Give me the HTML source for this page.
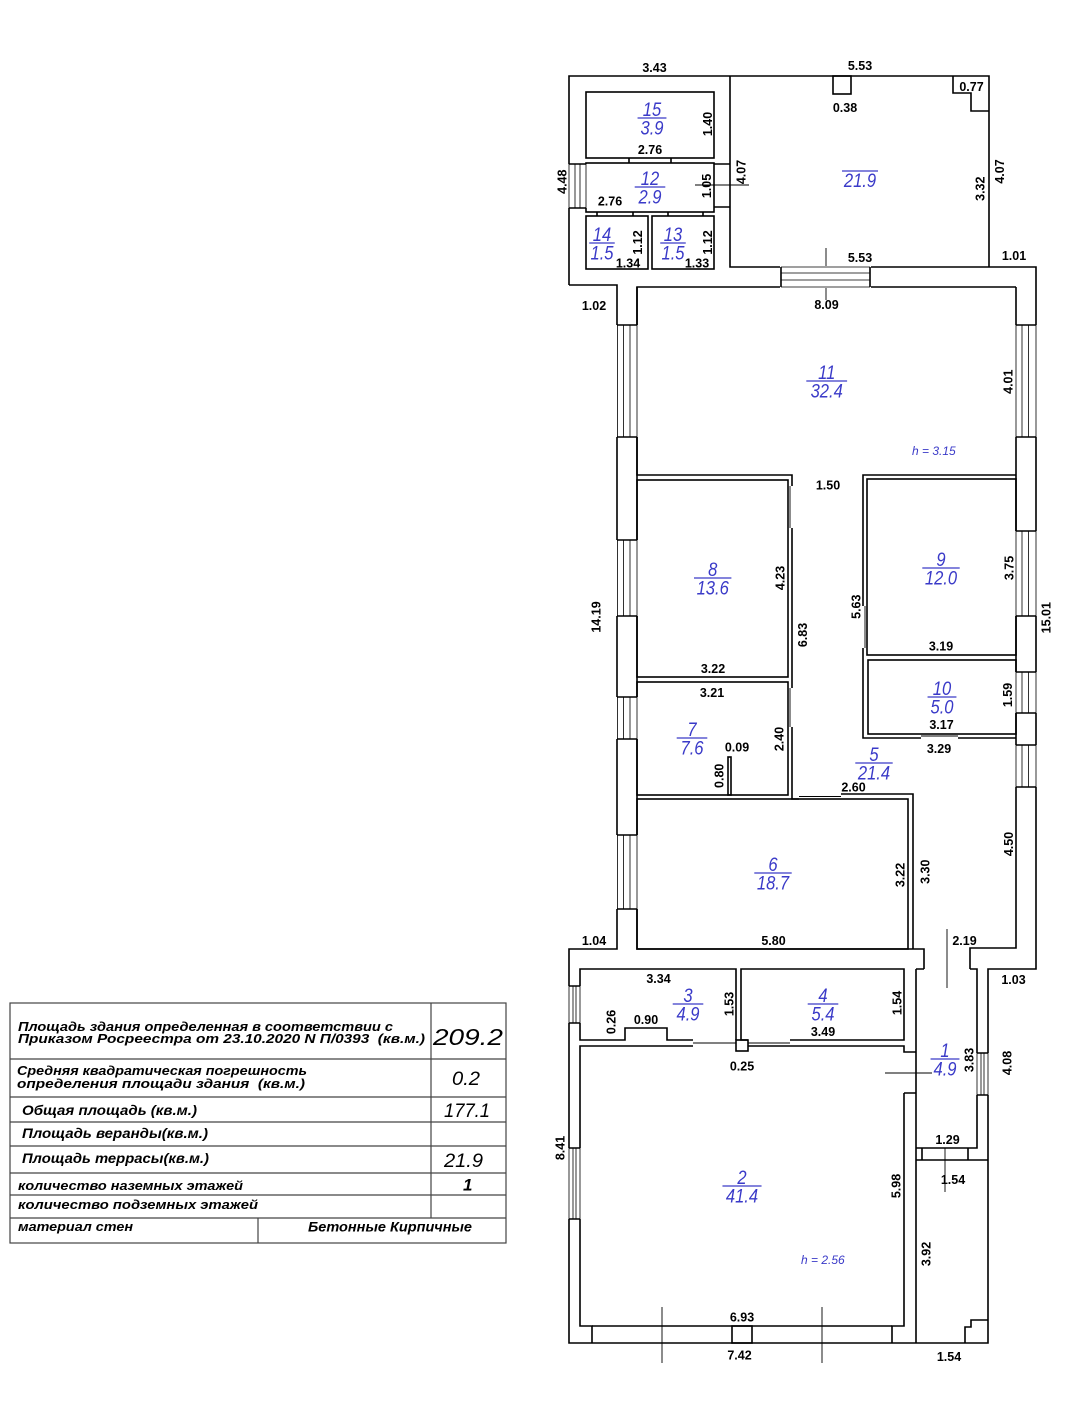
<!DOCTYPE html>
<html><head><meta charset="utf-8"><style>
html,body{margin:0;padding:0;background:#fff;}
svg{display:block}
.w{fill:none;stroke:#000;stroke-width:1.6}
.t{fill:none;stroke:#000;stroke-width:0.9}
.tw{fill:none;stroke:#000;stroke-width:0.8}
.d{font-family:"Liberation Sans",sans-serif;font-weight:bold;font-size:12.5px;fill:#000;text-anchor:middle}
.r{font-family:"Liberation Sans",sans-serif;font-style:italic;font-size:19.5px;fill:#3a3ac8;text-anchor:middle}
.rl{stroke:#3a3ac8;stroke-width:1.3}
.h{font-family:"Liberation Sans",sans-serif;font-style:italic;font-size:12px;fill:#3a3ac8}
.tb{font-family:"Liberation Sans",sans-serif;font-style:italic;font-weight:bold;font-size:13px;fill:#000}
.tv{font-family:"Liberation Sans",sans-serif;font-style:italic;font-size:19px;fill:#000}
.g{fill:none;stroke:#444;stroke-width:1.2}
</style></head><body>
<svg width="1080" height="1424" viewBox="0 0 1080 1424">
<rect width="1080" height="1424" fill="#fff"/>

<!-- outer outlines -->
<path class="w" d="M569,285 V76 H989 V267"/>
<path class="w" d="M569,285 H617 V949 H569 V1343 H988 V969 H1036 V267 H730 V76"/>

<!-- top-left block rooms -->
<rect class="w" x="586" y="92" width="128" height="66"/>
<rect class="w" x="586" y="163" width="128" height="49"/>
<rect class="w" x="586" y="216" width="62" height="53"/>
<rect class="w" x="652" y="216" width="62" height="53"/>
<path class="w" d="M629,158V163 M671,158V163 M597,212V216 M633,212V216 M668,212V216 M703,212V216"/>
<path class="w" d="M714,164H730 M714,207H730"/>
<path class="t" d="M695,185H749"/>

<!-- terrace -->
<rect class="w" x="833" y="76" width="18" height="18"/>
<path class="w" d="M953,76V93H971V111H989"/>
<path class="t" d="M826,248V300"/>
<line class="rl" x1="842" y1="171" x2="878" y2="171"/>
<text class="r" x="860" y="187" transform="translate(860,0) scale(0.85,1) translate(-860,0)">21.9</text>

<!-- inner walls main -->
<path class="w" d="M792,486V475H637V287H1016"/>
<path class="w" d="M1016,287V948H970V969"/>
<path class="w" d="M1016,475H863V479"/>
<path class="w" d="M637,287V949H924V969"/>

<!-- rooms 8,7,6 -->
<rect class="w" x="637" y="480" width="151" height="197"/>
<rect class="w" x="637" y="682" width="151" height="113"/>
<path class="w" d="M792,528V688 M792,727V799H799"/>
<path class="t" d="M790,486V528 M790,688V727"/>
<rect class="w" x="637" y="799" width="271" height="150"/>
<path class="w" d="M841,794H913V949"/>
<path class="t" d="M799,796.5H841"/>
<rect class="w" x="728" y="757" width="3" height="38"/>

<!-- rooms 9,10 -->
<rect class="w" x="867" y="479" width="149" height="176"/>
<rect class="w" x="868" y="660" width="148" height="74"/>
<path class="w" d="M863,479V606 M863,648V738H921 M958,738H1016"/>
<path class="t" d="M865,606V648 M921,736H958"/>

<!-- lower part -->
<path class="w" d="M693,1040H667V1028H625V1040H580V969H736V1040"/>
<path class="t" d="M693,1043H736"/>
<path class="w" d="M748,1040H741V969H904V1040H790"/>
<path class="t" d="M748,1043H790"/>
<path class="w" d="M693,1046H580V1326H592V1343 M748,1046H904V1052H916 M904,1093H916 M904,1093V1326H892V1343"/>
<rect class="w" x="736" y="1040" width="12" height="11"/>
<path class="w" d="M592,1326H892"/>
<rect class="w" x="732" y="1326" width="20" height="17"/>
<path class="w" d="M916,969V1343 M916,969H924 M970,969H977V1148H916"/>
<path class="w" d="M922,1148V1160 M968,1148V1160 M916,1160H988"/>
<path class="w" d="M988,1320H971V1327H965V1343"/>
<path class="t" d="M947,929V988 M885,1073H932 M945,1148V1192 M662,1307V1363 M822,1307V1363"/>

<!-- windows: white out wall lines then thin window lines -->
<g fill="#fff" stroke="none">
<rect x="780" y="266" width="91" height="22"/>
<rect x="568" y="164" width="19" height="44"/>
<rect x="616" y="325" width="22" height="112"/>
<rect x="616" y="540" width="22" height="76"/>
<rect x="616" y="697" width="22" height="42"/>
<rect x="616" y="835" width="22" height="74"/>
<rect x="1015" y="325" width="22" height="112"/>
<rect x="1015" y="531" width="22" height="85"/>
<rect x="1015" y="672" width="22" height="41"/>
<rect x="1015" y="745" width="22" height="42"/>
<rect x="568" y="986" width="13" height="37"/>
<rect x="568" y="1148" width="13" height="71"/>
<rect x="976" y="1053" width="13" height="42"/>
</g>
<path class="tw" d="M781,267H870 M781,273H870 M781,280H870 M781,287H870"/>
<path class="w" d="M781,267V287 M870,267V287"/>
<path class="tw" d="M569,164V208 M575,164V208 M580,164V208 M586,164V208"/>
<path class="w" d="M569,164H586 M569,208H586"/>
<path class="tw" d="M617.5,325V437 M623.5,325V437 M630,325V437 M637,325V437
 M617.5,540V616 M623.5,540V616 M630,540V616 M637,540V616
 M617.5,697V739 M623.5,697V739 M630,697V739 M637,697V739
 M617.5,835V909 M623.5,835V909 M630,835V909 M637,835V909"/>
<path class="w" d="M617,325H637 M617,437H637 M617,540H637 M617,616H637 M617,697H637 M617,739H637 M617,835H637 M617,909H637"/>
<path class="tw" d="M1016,325V437 M1022,325V437 M1028.5,325V437 M1036,325V437
 M1016,531V616 M1022,531V616 M1028.5,531V616 M1036,531V616
 M1016,672V713 M1022,672V713 M1028.5,672V713 M1036,672V713
 M1016,745V787 M1022,745V787 M1028.5,745V787 M1036,745V787"/>
<path class="w" d="M1016,325H1036 M1016,437H1036 M1016,531H1036 M1016,616H1036 M1016,672H1036 M1016,713H1036 M1016,745H1036 M1016,787H1036"/>
<path class="tw" d="M569,986V1023 M573,986V1023 M576,986V1023 M580,986V1023 M569,1148V1219 M573,1148V1219 M576,1148V1219 M580,1148V1219"/>
<path class="w" d="M569,986H580 M569,1023H580 M569,1148H580 M569,1219H580"/>
<path class="tw" d="M977,1053V1095 M981,1053V1095 M984,1053V1095 M988,1053V1095"/>
<path class="w" d="M977,1053H988 M977,1095H988"/>

<!-- dimension labels horizontal -->
<text class="d" x="654.5" y="72">3.43</text>
<text class="d" x="860" y="70">5.53</text>
<text class="d" x="845" y="112">0.38</text>
<text class="d" x="971.5" y="91">0.77</text>
<text class="d" x="650" y="154">2.76</text>
<text class="d" x="610" y="205.5">2.76</text>
<text class="d" x="628" y="267.5">1.34</text>
<text class="d" x="697" y="267.5">1.33</text>
<text class="d" x="860" y="262">5.53</text>
<text class="d" x="1014" y="260">1.01</text>
<text class="d" x="594" y="310">1.02</text>
<text class="d" x="826.5" y="309">8.09</text>
<text class="d" x="828" y="489.5">1.50</text>
<text class="d" x="713" y="673">3.22</text>
<text class="d" x="941" y="650.5">3.19</text>
<text class="d" x="712" y="697">3.21</text>
<text class="d" x="941.5" y="729">3.17</text>
<text class="d" x="939" y="753">3.29</text>
<text class="d" x="737" y="751.5">0.09</text>
<text class="d" x="853.5" y="791.5">2.60</text>
<text class="d" x="773.5" y="945">5.80</text>
<text class="d" x="594" y="945">1.04</text>
<text class="d" x="964.5" y="945">2.19</text>
<text class="d" x="658.5" y="983">3.34</text>
<text class="d" x="646" y="1024">0.90</text>
<text class="d" x="823" y="1036">3.49</text>
<text class="d" x="742" y="1070.5">0.25</text>
<text class="d" x="947.5" y="1144">1.29</text>
<text class="d" x="1013.5" y="984">1.03</text>
<text class="d" x="953" y="1184">1.54</text>
<text class="d" x="742" y="1321.5">6.93</text>
<text class="d" x="739.5" y="1359.5">7.42</text>
<text class="d" x="949" y="1361">1.54</text>

<!-- dimension labels vertical -->
<text class="d" transform="translate(707.5,124) rotate(-90)" y="4.5">1.40</text>
<text class="d" transform="translate(706.7,186) rotate(-90)" y="4.5">1.05</text>
<text class="d" transform="translate(741,172) rotate(-90)" y="4.5">4.07</text>
<text class="d" transform="translate(562,181.7) rotate(-90)" y="4.5">4.48</text>
<text class="d" transform="translate(637.5,242.5) rotate(-90)" y="4.5">1.12</text>
<text class="d" transform="translate(707.5,242.5) rotate(-90)" y="4.5">1.12</text>
<text class="d" transform="translate(980,188.7) rotate(-90)" y="4.5">3.32</text>
<text class="d" transform="translate(999.7,171.5) rotate(-90)" y="4.5">4.07</text>
<text class="d" transform="translate(1008,381.7) rotate(-90)" y="4.5">4.01</text>
<text class="d" transform="translate(780,578) rotate(-90)" y="4.5">4.23</text>
<text class="d" transform="translate(802.5,635) rotate(-90)" y="4.5">6.83</text>
<text class="d" transform="translate(856,606.7) rotate(-90)" y="4.5">5.63</text>
<text class="d" transform="translate(1009,568) rotate(-90)" y="4.5">3.75</text>
<text class="d" transform="translate(1046,617.7) rotate(-90)" y="4.5">15.01</text>
<text class="d" transform="translate(1007.5,695) rotate(-90)" y="4.5">1.59</text>
<text class="d" transform="translate(779,739) rotate(-90)" y="4.5">2.40</text>
<text class="d" transform="translate(719,775.8) rotate(-90)" y="4.5">0.80</text>
<text class="d" transform="translate(900,875) rotate(-90)" y="4.5">3.22</text>
<text class="d" transform="translate(925,871.7) rotate(-90)" y="4.5">3.30</text>
<text class="d" transform="translate(1008.5,844) rotate(-90)" y="4.5">4.50</text>
<text class="d" transform="translate(596,617) rotate(-90)" y="4.5">14.19</text>
<text class="d" transform="translate(729,1004) rotate(-90)" y="4.5">1.53</text>
<text class="d" transform="translate(611,1022) rotate(-90)" y="4.5">0.26</text>
<text class="d" transform="translate(897,1003) rotate(-90)" y="4.5">1.54</text>
<text class="d" transform="translate(969,1060) rotate(-90)" y="4.5">3.83</text>
<text class="d" transform="translate(1007,1063) rotate(-90)" y="4.5">4.08</text>
<text class="d" transform="translate(560,1148) rotate(-90)" y="4.5">8.41</text>
<text class="d" transform="translate(896,1186) rotate(-90)" y="4.5">5.98</text>
<text class="d" transform="translate(926,1254) rotate(-90)" y="4.5">3.92</text>

<!-- room labels -->
<g transform="translate(652,118) scale(0.85,1)"><text class="r" y="-2">15</text><line class="rl" x1="-17" x2="17" y1="0" y2="0"/><text class="r" y="16.5">3.9</text></g>
<g transform="translate(650,187) scale(0.85,1)"><text class="r" y="-2">12</text><line class="rl" x1="-18" x2="18" y1="0" y2="0"/><text class="r" y="16.5">2.9</text></g>
<g transform="translate(602,243) scale(0.85,1)"><text class="r" y="-2">14</text><line class="rl" x1="-15" x2="15" y1="0" y2="0"/><text class="r" y="16.5">1.5</text></g>
<g transform="translate(673,243) scale(0.85,1)"><text class="r" y="-2">13</text><line class="rl" x1="-15" x2="15" y1="0" y2="0"/><text class="r" y="16.5">1.5</text></g>
<g transform="translate(826.7,381) scale(0.85,1)"><text class="r" y="-2">11</text><line class="rl" x1="-24" x2="24" y1="0" y2="0"/><text class="r" y="16.5">32.4</text></g>
<g transform="translate(712.7,578) scale(0.85,1)"><text class="r" y="-2">8</text><line class="rl" x1="-22" x2="22" y1="0" y2="0"/><text class="r" y="16.5">13.6</text></g>
<g transform="translate(941,568) scale(0.85,1)"><text class="r" y="-2">9</text><line class="rl" x1="-22" x2="22" y1="0" y2="0"/><text class="r" y="16.5">12.0</text></g>
<g transform="translate(942,697) scale(0.85,1)"><text class="r" y="-2">10</text><line class="rl" x1="-17" x2="17" y1="0" y2="0"/><text class="r" y="16.5">5.0</text></g>
<g transform="translate(692,738) scale(0.85,1)"><text class="r" y="-2">7</text><line class="rl" x1="-18" x2="18" y1="0" y2="0"/><text class="r" y="16.5">7.6</text></g>
<g transform="translate(874,763) scale(0.85,1)"><text class="r" y="-2">5</text><line class="rl" x1="-22" x2="22" y1="0" y2="0"/><text class="r" y="16.5">21.4</text></g>
<g transform="translate(773,873) scale(0.85,1)"><text class="r" y="-2">6</text><line class="rl" x1="-22" x2="22" y1="0" y2="0"/><text class="r" y="16.5">18.7</text></g>
<g transform="translate(688,1004) scale(0.85,1)"><text class="r" y="-2">3</text><line class="rl" x1="-18" x2="18" y1="0" y2="0"/><text class="r" y="16.5">4.9</text></g>
<g transform="translate(823,1004) scale(0.85,1)"><text class="r" y="-2">4</text><line class="rl" x1="-18" x2="18" y1="0" y2="0"/><text class="r" y="16.5">5.4</text></g>
<g transform="translate(945,1059) scale(0.85,1)"><text class="r" y="-2">1</text><line class="rl" x1="-17" x2="17" y1="0" y2="0"/><text class="r" y="16.5">4.9</text></g>
<g transform="translate(742,1186) scale(0.85,1)"><text class="r" y="-2">2</text><line class="rl" x1="-23" x2="23" y1="0" y2="0"/><text class="r" y="16.5">41.4</text></g>
<text class="h" x="912" y="455">h = 3.15</text>
<text class="h" x="801" y="1264">h = 2.56</text>

<!-- table -->
<rect class="g" x="10" y="1003" width="496" height="240"/>
<path class="g" d="M10,1059H506 M10,1097H506 M10,1122H506 M10,1146H506 M10,1173H506 M10,1195H506 M10,1218H506 M431,1003V1218 M258,1218V1243"/>
<text class="tb" x="18" y="1031" textLength="375" lengthAdjust="spacingAndGlyphs">Площадь здания определенная в соответствии с</text>
<text class="tb" x="18" y="1043" textLength="407" lengthAdjust="spacingAndGlyphs" xml:space="preserve">Приказом Росреестра от 23.10.2020 N П/0393  (кв.м.)</text>
<text class="tv" x="433" y="1045" style="font-size:23px" textLength="70" lengthAdjust="spacingAndGlyphs">209.2</text>
<text class="tb" x="17" y="1075" textLength="290" lengthAdjust="spacingAndGlyphs">Средняя квадратическая погрешность</text>
<text class="tb" x="17" y="1088" textLength="288" lengthAdjust="spacingAndGlyphs" xml:space="preserve">определения площади здания  (кв.м.)</text>
<text class="tv" x="452" y="1085" textLength="28" lengthAdjust="spacingAndGlyphs">0.2</text>
<text class="tb" x="22" y="1115" style="font-size:14px" textLength="175" lengthAdjust="spacingAndGlyphs">Общая площадь (кв.м.)</text>
<text class="tv" x="444" y="1117" textLength="46" lengthAdjust="spacingAndGlyphs">177.1</text>
<text class="tb" x="22" y="1138" style="font-size:14px" textLength="186" lengthAdjust="spacingAndGlyphs">Площадь веранды(кв.м.)</text>
<text class="tb" x="22" y="1163" style="font-size:14px" textLength="187" lengthAdjust="spacingAndGlyphs">Площадь террасы(кв.м.)</text>
<text class="tv" x="444" y="1167" textLength="39" lengthAdjust="spacingAndGlyphs">21.9</text>
<text class="tb" x="18" y="1190" textLength="225" lengthAdjust="spacingAndGlyphs">количество наземных этажей</text>
<text class="tv" x="463" y="1190.5" style="font-weight:bold;font-size:17px">1</text>
<text class="tb" x="18" y="1209" textLength="240" lengthAdjust="spacingAndGlyphs">количество подземных этажей</text>
<text class="tb" x="18" y="1231" textLength="115" lengthAdjust="spacingAndGlyphs">материал стен</text>
<text class="tb" x="308" y="1231.5" style="font-size:14px" textLength="164" lengthAdjust="spacingAndGlyphs">Бетонные Кирпичные</text>
</svg>
</body></html>
